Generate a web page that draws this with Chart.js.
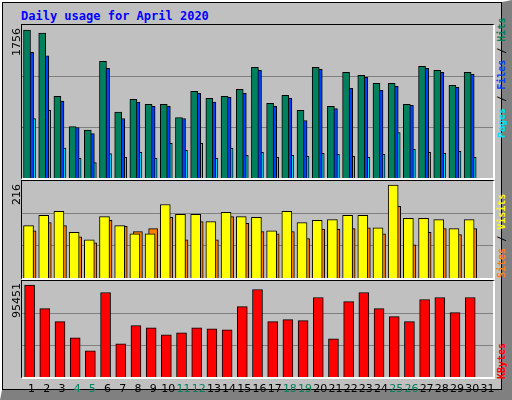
<!DOCTYPE html>
<html><head><meta charset="utf-8">
<script src="https://cdn.jsdelivr.net/npm/chart.js@4"></script>
<style>
body{margin:0;background:#fff;}
#frame{position:absolute;left:0;top:0;width:500px;height:388px;background:#c0c0c0;border:2px solid #fff;border-right:10px solid #808080;border-bottom:10px solid #808080;box-shadow:inset 0 0 0 1px #000;font-family:"DejaVu Sans Mono",monospace;}
#title{position:absolute;left:19px;top:7px;font-weight:bold;font-size:12px;color:#0000ff;}
.panel{position:absolute;left:19px;width:471px;border-top:1px solid #000;border-left:1px solid #000;border-right:2px solid #fff;border-bottom:2px solid #fff;}
.panel canvas{position:absolute;left:0;top:0;}
.ylab{position:absolute;font-size:11px;color:#000;transform:rotate(-90deg);transform-origin:left top;font-family:"DejaVu Sans",sans-serif;}
.rlab{position:absolute;font-size:10px;font-weight:bold;transform:rotate(-90deg);transform-origin:left top;white-space:nowrap;}
#days span{position:absolute;top:380px;font-size:11px;width:16px;text-align:center;font-family:"DejaVu Sans",sans-serif;}
</style></head>
<body>
<div id="frame">
<div id="title">Daily usage for April 2020</div>
<div class="panel" style="top:22px;height:153px"><canvas id="c1"></canvas></div>
<div class="panel" style="top:178px;height:97px"><canvas id="c2"></canvas></div>
<div class="panel" style="top:278px;height:96px"><canvas id="c3"></canvas></div>
<div class="ylab" style="left:8px;top:54px">1756</div>
<div class="ylab" style="left:8px;top:203px">216</div>
<div class="ylab" style="left:8px;top:316px">95451</div>
<div class="rlab" style="left:494px;top:136px"><span style="color:#00e0ff">Pages</span> / <span style="color:#0040ff">Files</span> / <span style="color:#00805c">Hits</span></div>
<div class="rlab" style="left:494px;top:276px"><span style="color:#ff8000">Sites</span> / <span style="color:#ffff00">Visits</span></div>
<div class="rlab" style="left:494px;top:377px"><span style="color:#ff0000">KBytes</span></div>
<div id="days"></div>
</div>
<script>
const days = Array.from({length: 31}, (_, i) => i + 1);
const weekend = [4, 5, 11, 12, 18, 19, 25, 26];
const hits = [1756,1720,969,612,568,1387,783,934,874,874,719,1029,946,969,1053,1315,886,981,803,1315,850,1255,1220,1124,1124,874,1327,1279,1101,1255,null];
const files = [1494,1450,914,600,528,1303,707,902,850,850,707,1005,902,957,1005,1279,850,946,683,1291,826,1065,1196,1041,1089,862,1303,1255,1077,1231,null];
const pages = [707,803,354,234,183,290,246,306,234,413,330,413,234,354,270,306,246,270,258,294,282,258,246,282,540,342,306,294,318,246,null];
const visits = [122,146,155,106,89,143,122,103,103,171,148,148,131,153,143,141,110,155,129,134,136,146,146,117,216,139,139,136,115,136,null];
const sites = [110,129,122,96,82,134,120,108,115,141,89,131,89,143,127,108,103,108,92,113,113,115,117,103,167,77,106,115,101,115,null];
const kbytes = [95451,71070,57490,40760,27180,87800,34490,53300,51210,43900,45990,51210,50170,49120,73160,90930,57490,59580,58530,82570,39720,78390,87800,71070,62710,57490,80480,82570,66890,82570,null];

// day labels under the plot
const dayBox = document.getElementById('days');
days.forEach(d => {
    const s = document.createElement('span');
    s.textContent = d;
    s.style.left = (19 + (d - 0.5) * 471 / 31 - 8 + 3) + 'px';
    s.style.color = weekend.includes(d) ? '#00805c' : '#000';
    dayBox.appendChild(s);
});

function series(vals, shift, color, width, order) {
    return {
        data: vals.map((v, i) => ({x: days[i] + shift, y: v})),
        backgroundColor: color, borderColor: '#000', borderWidth: 1,
        barThickness: width, grouped: false, order: order
    };
}

function makeChart(id, w, h, sets, headroom) {
    const cv = document.getElementById(id);
    cv.width = w; cv.height = h;
    const top = Math.max(...sets.flatMap(s => s.data.map(p => p.y || 0)));
    new Chart(cv, {
        type: 'bar',
        data: {datasets: sets},
        options: {
            responsive: false, animation: false,
            devicePixelRatio: 1,
            layout: {padding: 0},
            plugins: {legend: {display: false}, tooltip: {enabled: false}},
            scales: {
                x: {type: 'linear', min: 0.5, max: 31.5, offset: false, display: false},
                y: {
                    min: 0, max: top * headroom,
                    afterBuildTicks: ax => { ax.ticks = [ax.max / 3, ax.max * 2 / 3].map(v => ({value: v})); },
                    ticks: {display: false},
                    grid: {color: '#808080', lineWidth: 1, drawTicks: false},
                    border: {display: false}
                }
            }
        }
    });
}

makeChart('c1', 471, 153, [
    series(hits, -0.17, '#00805c', 7, 1),
    series(files, 0.0, '#0040ff', 8, 2),
    series(pages, 0.13, '#00e0ff', 8, 3)
], 1.035);
makeChart('c2', 471, 97, [
    series(visits, -0.07, '#ffff00', 10, 1),
    series(sites, 0.13, '#ff8000', 9, 2)
], 1.045);
makeChart('c3', 471, 96, [
    series(kbytes, 0.0, '#ff0000', 10, 1)
], 1.045);
</script>
</body></html>
